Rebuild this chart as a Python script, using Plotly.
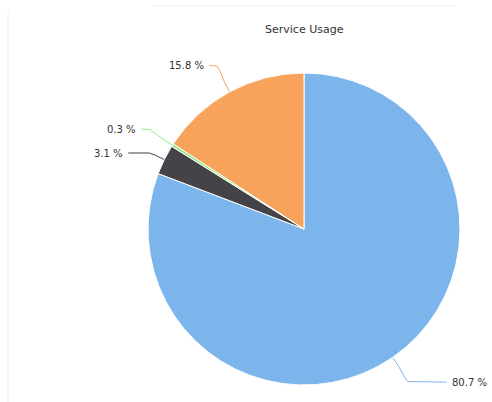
import math
import plotly.graph_objects as go

# ---- data ----
slice_names = ["Service A", "Service B", "Service C", "Service D"]
slice_values = [80.7, 3.1, 0.3, 15.8]
slice_labels = ["80.7 %", "3.1 %", "0.3 %", "15.8 %"]
slice_colors = ["#7cb5ec", "#434348", "#90ed7d", "#f7a35c"]
chart_title = "Service Usage"

# ---- layout constants (pixels) ----
W, H = 492, 402
CX, CY, R = 304, 229, 156
LABEL_DIST = 30
MIN_GAP = 24
PAD_LEFT, PAD_RIGHT = 9, 40

fig = go.Figure()

fig.add_trace(go.Pie(
    labels=slice_names,
    values=slice_values,
    marker=dict(colors=slice_colors, line=dict(color="white", width=1)),
    sort=False,
    direction="clockwise",
    rotation=0,
    textinfo="none",
    showlegend=False,
    domain=dict(x=[(CX - R) / W, (CX + R) / W],
                y=[(H - CY - R) / H, (H - CY + R) / H]),
))

# ---- compute label positions from data (Highcharts-like) ----
total = sum(slice_values)
cum = 0.0
items = []
Rl = R + LABEL_DIST
for name, v, lab, col in zip(slice_names, slice_values, slice_labels, slice_colors):
    a0 = cum / total * 2 * math.pi
    cum += v
    a1 = cum / total * 2 * math.pi
    th = (a0 + a1) / 2
    s, c = math.sin(th), math.cos(th)
    items.append(dict(
        lab=lab, col=col, s=s, c=c,
        left=s < 0,
        y=CY - Rl * c,
        edge=(CX + R * s, CY - R * c),
        brk=(CX + (R + 10) * s, CY - (R + 10) * c),
    ))

for side in (True, False):
    grp = sorted([it for it in items if it["left"] == side], key=lambda d: d["y"])
    for i in range(1, len(grp)):
        if grp[i]["y"] - grp[i - 1]["y"] < MIN_GAP:
            grp[i]["y"] = grp[i - 1]["y"] + MIN_GAP

annotations = []
for it in items:
    dy = it["y"] - CY
    dx = math.sqrt(max(Rl * Rl - dy * dy, 0))
    x = CX - dx if it["left"] else CX + dx
    y = it["y"]
    sgn = -1 if it["left"] else 1
    pad = PAD_LEFT if it["left"] else PAD_RIGHT
    tx = x + sgn * pad
    # connector: label -> circle point -> curve -> break -> slice edge
    e = it["edge"]
    b = it["brk"]
    p0 = (x, y)
    p1 = (x - sgn * 4, y)
    p2 = (2 * b[0] - e[0], 2 * b[1] - e[1])
    p3 = b
    xs = [tx - sgn * 3]
    ys = [y]
    for k in range(21):
        t = k / 20
        mt = 1 - t
        xs.append(mt**3 * p0[0] + 3 * mt**2 * t * p1[0] + 3 * mt * t**2 * p2[0] + t**3 * p3[0])
        ys.append(mt**3 * p0[1] + 3 * mt**2 * t * p1[1] + 3 * mt * t**2 * p2[1] + t**3 * p3[1])
    xs.append(e[0])
    ys.append(e[1])
    fig.add_trace(go.Scatter(x=xs, y=ys, mode="lines",
                             line=dict(color=it["col"], width=1),
                             hoverinfo="skip", showlegend=False))
    annotations.append(dict(
        x=tx, y=y, xref="x", yref="y",
        text=it["lab"], showarrow=False,
        xanchor="right" if it["left"] else "left", yanchor="middle",
        font=dict(family="DejaVu Sans", size=10, color="#333333"),
    ))

annotations.append(dict(
    x=CX, y=29, xref="x", yref="y", text=chart_title, showarrow=False,
    xanchor="center", yanchor="middle",
    font=dict(family="DejaVu Sans", size=11, color="#333333"),
))

fig.update_layout(
    width=W, height=H,
    margin=dict(l=0, r=0, t=0, b=0),
    paper_bgcolor="white", plot_bgcolor="rgba(0,0,0,0)",
    xaxis=dict(range=[0, W], visible=False, fixedrange=True),
    yaxis=dict(range=[H, 0], visible=False, fixedrange=True),
    annotations=annotations,
    shapes=[
        dict(type="line", xref="x", yref="y", x0=153, x1=455, y0=6, y1=6,
             line=dict(color="#eeeeee", width=1)),
        dict(type="line", xref="x", yref="y", x0=8, x1=8, y0=12, y1=H,
             line=dict(color="#eeeeee", width=1)),
    ],
)

fig.write_html("out.html", post_script="document.body.style.margin='0px';",
               config={"displayModeBar": False})
